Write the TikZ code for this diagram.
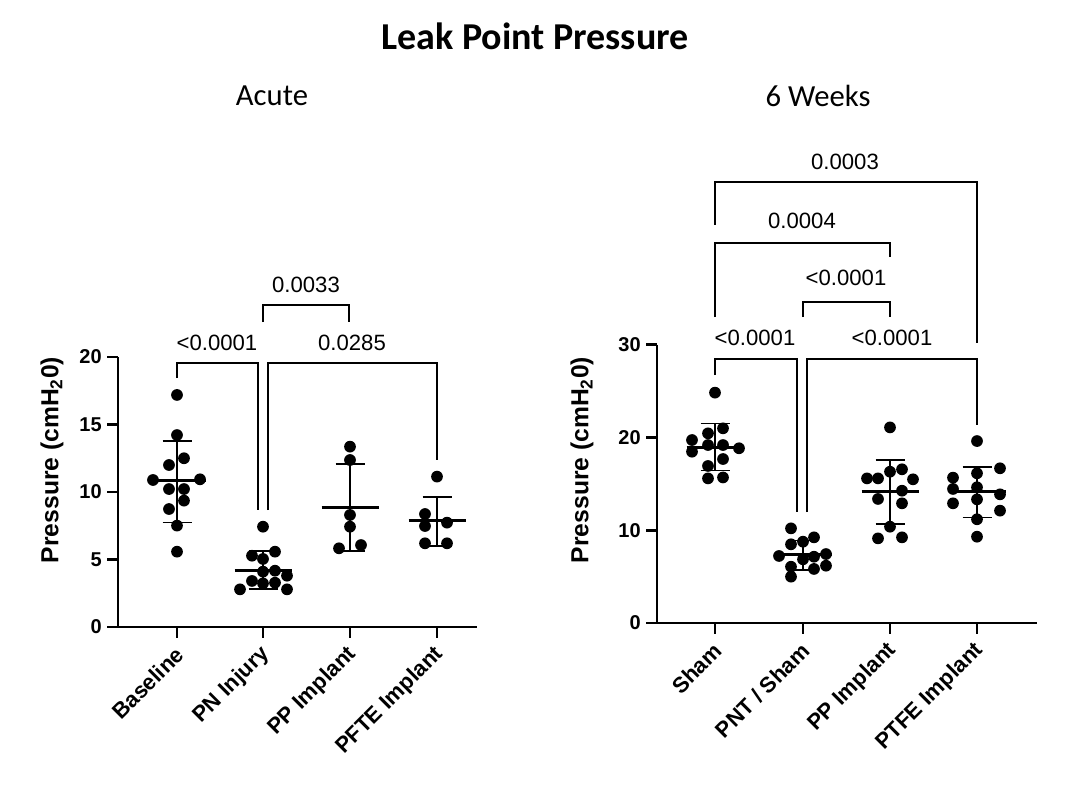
\documentclass[tikz,border=0pt]{standalone}
\usepackage{fontspec}
\setmainfont{Liberation Sans}
\newfontfamily\headfont{Carlito}
\usepackage{tikz}

\begin{document}
\begin{tikzpicture}[x=0.75pt, y=-0.75pt,
    pval/.style={font=\fontsize{16.6}{18}\selectfont, inner sep=0},
    ticklab/.style={font=\bfseries\fontsize{15}{17}\selectfont, anchor=east, inner sep=0},
    catlab/.style={font=\bfseries\fontsize{16.5}{18}\selectfont, anchor=east, rotate=45, inner sep=0},
    ylab/.style={font=\bfseries\fontsize{18.5}{20}\selectfont, rotate=90, inner sep=0},
    axis/.style={line width=2.2pt},
    bracket/.style={line width=2pt},
    errbar/.style={line width=1.2pt},
    meanbar/.style={line width=2.2pt}]
\useasboundingbox (0,0) rectangle (1080,802);

\node[font=\headfont\bfseries\fontsize{28.5}{30}\selectfont] (title) at (535,36) {Leak Point Pressure};
\node[font=\headfont\fontsize{23}{25}\selectfont] (acute) at (272,96) {Acute};
\node[font=\headfont\fontsize{23}{25}\selectfont] (weeks) at (818,96) {6 Weeks};

% acute
\begin{scope}[shift={(0,627)}, y=10.125pt]
    \draw[axis] (118,20) -- (118,0) -- (477,0);
    \foreach \t in {0,5,...,20} {
        \draw[axis] (107,\t) -- (118,\t);
        \node[ticklab] (la\t) at (102,\t) {\t};
    }
    \foreach \x/\v in {177/17.19, 177/14.22, 169/12.0, 184/12.5, 153/10.89, 200/10.94,
                       169/10.22, 184/10.22, 184/9.36, 169/8.74, 177/7.51, 177/5.58,
                       263/7.43, 252/5.28, 275/5.58, 263/5.04, 263/4.10, 275/4.17,
                       287/3.80, 252/3.41, 263/3.23, 275/3.28, 240/2.79, 287/2.79,
                       350/13.36, 350/12.37, 350/8.30, 350/7.43, 339/5.83, 361/6.07,
                       437/11.14, 425/8.37, 425/7.48, 447/7.73, 425/6.2, 447/6.2}
        \fill (\x,\v) circle[radius=4.4pt];
    \foreach \x/\m/\hi/\lo in {177/10.84/13.8/7.73, 263/4.22/5.65/2.81,
                               350/8.86/12.07/5.65, 437/7.88/9.65/6.02} {
        \draw[errbar] (\x,\lo) -- (\x,\hi);
        \draw[errbar] (\x-14.5,\hi) -- (\x+14.5,\hi);
        \draw[errbar] (\x-14.5,\lo) -- (\x+14.5,\lo);
        \draw[meanbar] (\x-28.5,\m) -- (\x+28.5,\m);
    }
\end{scope}
\foreach \x/\n/\t in {177/base/Baseline, 263/pn/PN Injury, 350/ppa/PP Implant, 437/pfte/PFTE Implant} {
    \draw[axis] (\x,627) -- (\x,638);
    \node[catlab] (c\n) at (\x+3,651) {\t};
}
\node[ylab] (ya) at (52,460) {Pressure (cmH\textsubscript{2}0)};

\coordinate (a1) at (177,378);
\coordinate (a2) at (258,510);
\coordinate (a3) at (268,510);
\coordinate (a4) at (437,460);
\coordinate (a5) at (263,322);
\coordinate (a6) at (349,322);
\draw[bracket] (a1) -- ++(0,-15) -| (a2);
\draw[bracket] (a3) -- ++(0,-147) -| (a4);
\draw[bracket] (a5) -- ++(0,-17) -| (a6);
\node[pval] (pa1) at (217,343) {<0.0001};
\node[pval] (pa2) at (352,343) {0.0285};
\node[pval] (pa3) at (306,285) {0.0033};

% 6 weeks
\begin{scope}[shift={(0,623)}, y=6.9525pt]
    \draw[axis] (657,30) -- (657,0) -- (1037,0);
    \foreach \t in {0,10,20,30} {
        \draw[axis] (646,\t) -- (657,\t);
        \node[ticklab] (lw\t) at (641,\t) {\t};
    }
    \foreach \x/\v in {715/24.85, 708/20.46, 723/21.0, 692/19.74, 708/19.2, 723/19.2,
                       739/18.85, 692/18.48, 723/17.69, 708/16.94, 708/15.6, 723/15.7,
                       791/10.21, 791/8.49, 803/8.77, 814/9.24, 779/7.23, 826/7.44,
                       803/6.87, 814/7.15, 791/6.07, 826/6.18, 814/5.83, 791/5.0,
                       890/21.1, 890/16.32, 902/16.58, 867/15.6, 878/15.6, 913/15.5,
                       902/14.27, 878/13.38, 902/12.91, 890/10.39, 878/9.13, 902/9.24,
                       977/19.63, 1000/16.69, 977/16.15, 953/15.68, 953/14.46, 977/14.64,
                       1000/13.88, 977/13.34, 953/12.91, 1000/12.12, 977/11.19, 977/9.31}
        \fill (\x,\v) circle[radius=4.4pt];
    \foreach \x/\m/\hi/\lo in {715/18.95/21.54/16.43, 803/7.44/8.9/5.75,
                               890/14.17/17.58/10.68, 977/14.17/16.86/11.4} {
        \draw[errbar] (\x,\lo) -- (\x,\hi);
        \draw[errbar] (\x-14.5,\hi) -- (\x+14.5,\hi);
        \draw[errbar] (\x-14.5,\lo) -- (\x+14.5,\lo);
        \draw[meanbar] (\x-28.5,\m) -- (\x+28.5,\m);
    }
\end{scope}
\foreach \x/\n/\t in {715/sham/Sham, 803/pnt/{PNT / Sham}, 890/ppw/PP Implant, 977/ptfe/PTFE Implant} {
    \draw[axis] (\x,623) -- (\x,634);
    \node[catlab] (c\n) at (\x+3,647) {\t};
}
\node[ylab] (yw) at (582,460) {Pressure (cmH\textsubscript{2}0)};

\coordinate (w1) at (715,375);
\coordinate (w2) at (797,512);
\coordinate (w3) at (807,512);
\coordinate (w4) at (977,425);
\coordinate (w5) at (803,317);
\coordinate (w6) at (890,317);
\coordinate (w7) at (715,317);
\coordinate (w8) at (890,257);
\coordinate (w9) at (715,225);
\coordinate (w10) at (977,343);
\draw[bracket] (w1) -- ++(0,-16) -| (w2);
\draw[bracket] (w3) -- ++(0,-153) -| (w4);
\draw[bracket] (w5) -- ++(0,-15) -| (w6);
\draw[bracket] (w7) -- ++(0,-74) -| (w8);
\draw[bracket] (w9) -- ++(0,-43) -| (w10);
\node[pval] (pw1) at (755,338) {<0.0001};
\node[pval] (pw2) at (892,338) {<0.0001};
\node[pval] (pw3) at (846,278) {<0.0001};
\node[pval] (pw4) at (802,221) {0.0004};
\node[pval] (pw5) at (845,162) {0.0003};
\end{tikzpicture}
\end{document}
